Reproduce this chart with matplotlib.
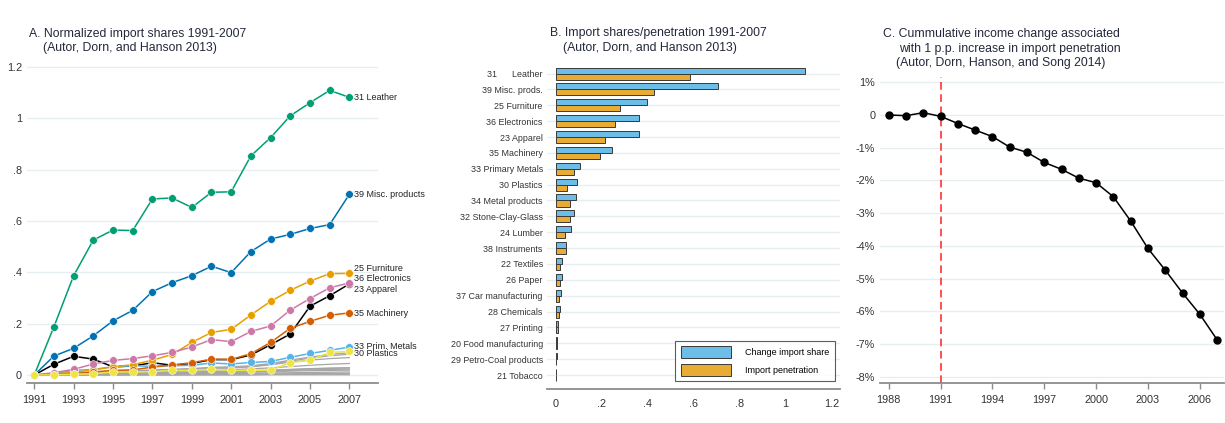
import numpy as np
import matplotlib.pyplot as plt

plt.rcParams['font.family'] = ['Liberation Sans', 'DejaVu Sans']

# ---- Panel A data: normalized import shares 1991-2007
years = list(range(1991, 2008))
leather = [0, 0.188, 0.387, 0.526, 0.565, 0.563, 0.686, 0.690, 0.653, 0.712,
           0.714, 0.854, 0.925, 1.010, 1.061, 1.109, 1.082]
misc = [0, 0.074, 0.104, 0.153, 0.211, 0.252, 0.325, 0.360, 0.387, 0.424,
        0.399, 0.481, 0.530, 0.548, 0.571, 0.586, 0.704]
furniture = [0, 0.005, 0.010, 0.020, 0.032, 0.040, 0.058, 0.080, 0.127, 0.166,
             0.178, 0.234, 0.287, 0.330, 0.366, 0.395, 0.396]
electronics = [0, 0.009, 0.022, 0.043, 0.057, 0.064, 0.075, 0.088, 0.109, 0.138,
               0.130, 0.170, 0.191, 0.253, 0.298, 0.340, 0.359]
apparel = [0, 0.042, 0.073, 0.062, 0.032, 0.035, 0.048, 0.038, 0.045, 0.060,
           0.060, 0.078, 0.118, 0.160, 0.268, 0.309, 0.355]
machinery = [0, 0.002, 0.005, 0.012, 0.018, 0.020, 0.031, 0.039, 0.048, 0.062,
             0.061, 0.083, 0.127, 0.182, 0.209, 0.233, 0.242]
prim_metals = [0, 0.006, 0.018, 0.022, 0.032, 0.036, 0.034, 0.036, 0.038, 0.047,
               0.043, 0.049, 0.053, 0.069, 0.084, 0.096, 0.109]
plastics = [0, 0.001, 0.003, 0.005, 0.012, 0.012, 0.013, 0.018, 0.018, 0.023,
            0.018, 0.018, 0.019, 0.048, 0.058, 0.088, 0.092]

# remaining industries (grey lines)
other_series = [
    [0, .003, .006, .009, .012, .015, .018, .021, .025, .030, .032, .036, .045, .058, .070, .080, .087],
    [0, .002, .005, .008, .011, .013, .016, .019, .022, .026, .028, .033, .042, .054, .066, .075, .081],
    [0, .004, .008, .011, .014, .017, .020, .022, .024, .027, .028, .032, .040, .050, .058, .064, .068],
    [0, .002, .004, .006, .008, .010, .012, .014, .017, .020, .021, .024, .028, .033, .038, .042, .045],
    [0, .001, .003, .004, .006, .007, .009, .010, .012, .014, .015, .017, .019, .022, .025, .027, .028],
    [0, .001, .002, .003, .004, .006, .007, .008, .010, .012, .013, .015, .018, .021, .024, .026, .028],
    [0, .001, .002, .003, .004, .005, .006, .007, .008, .010, .011, .013, .015, .018, .020, .022, .023],
    [0, .001, .002, .003, .003, .004, .005, .006, .007, .008, .009, .011, .013, .015, .017, .018, .019],
    [0, .001, .001, .002, .002, .003, .003, .004, .005, .005, .006, .007, .008, .009, .010, .011, .012],
    [0, 0, .001, .001, .001, .002, .002, .002, .003, .003, .003, .004, .004, .005, .006, .006, .007],
    [0, 0, 0, .001, .001, .001, .001, .001, .002, .002, .002, .002, .003, .003, .003, .004, .004],
    [0, 0, 0, 0, 0, 0, 0, 0, 0, 0, 0, 0, .001, .001, .001, .001, .001],
]

# ---- Panel B data
industries = ["31      Leather", "39 Misc. prods.", "25 Furniture", "36 Electronics",
              "23 Apparel", "35 Machinery", "33 Primary Metals", "30 Plastics",
              "34 Metal products", "32 Stone-Clay-Glass", "24 Lumber", "38 Instruments",
              "22 Textiles", "26 Paper", "37 Car manufacturing", "28 Chemicals",
              "27 Printing", "20 Food manufacturing", "29 Petro-Coal products", "21 Tobacco"]
change_share = [1.084, 0.704, 0.397, 0.361, 0.361, 0.243, 0.104, 0.093, 0.087, 0.081,
                0.068, 0.045, 0.028, 0.028, 0.023, 0.019, 0.012, 0.007, 0.004, 0.001]
penetration = [0.584, 0.429, 0.278, 0.259, 0.216, 0.194, 0.078, 0.049, 0.064, 0.064,
               0.041, 0.043, 0.020, 0.017, 0.014, 0.016, 0.012, 0.004, 0.003, 0.001]

# ---- Panel C data
c_years = list(range(1988, 2008))
income_change = [0.0, -0.02, 0.07, -0.04, -0.26, -0.46, -0.66, -0.98, -1.14, -1.45,
                 -1.66, -1.93, -2.07, -2.50, -3.24, -4.08, -4.74, -5.44, -6.09, -6.87]

text_col = '#23283a'
grid_col = '#e6eef1'
axis_col = '#8c8c8c'

fig = plt.figure(figsize=(12.25, 4.23), dpi=100)


def style_axes(ax):
    for s in ['top', 'right', 'left']:
        ax.spines[s].set_visible(False)
    ax.spines['bottom'].set_color(axis_col)
    ax.spines['bottom'].set_linewidth(1.3)
    ax.tick_params(axis='x', colors=axis_col, labelcolor='#333333', length=4, width=1)
    ax.tick_params(axis='y', length=0, labelcolor='#333333')
    ax.set_axisbelow(True)


# ================= Panel A
axA = fig.add_axes([0.022, 0.0946, 0.2865, 0.759])
style_axes(axA)
for s in other_series:
    axA.plot(years, s, color='#a6a6a6', lw=0.9, zorder=2)

series = [
    (apparel, '#000000'),
    (leather, '#009E73'),
    (misc, '#0072B2'),
    (prim_metals, '#56B4E9'),
    (furniture, '#E69F00'),
    (electronics, '#CC79A7'),
    (machinery, '#D55E00'),
    (plastics, '#F0E442'),
]
for vals, col in series:
    axA.plot(years, vals, color=col, lw=1.1, marker='o', ms=5.6,
             mec='white', mew=0.4, zorder=3)

labels_A = [("31 Leather", 1.080), ("39 Misc. products", 0.704), ("25 Furniture", 0.416),
            ("36 Electronics", 0.377), ("23 Apparel", 0.334), ("35 Machinery", 0.240),
            ("33 Prim. Metals", 0.113), ("30 Plastics", 0.082)]
for txt, yv in labels_A:
    axA.text(2007.25, yv, txt, fontsize=6.5, va='center', ha='left', color='#222222',
             clip_on=False)

axA.set_xlim(1990.63, 2008.45)
axA.set_ylim(-0.031, 1.22)
axA.set_xticks(range(1991, 2008, 2))
axA.set_yticks([0, 0.2, 0.4, 0.6, 0.8, 1.0, 1.2])
axA.set_yticklabels(['0', '.2', '.4', '.6', '.8', '1', '1.2'])
axA.tick_params(labelsize=7.8)
axA.tick_params(axis='x', pad=5)
axA.grid(axis='y', color=grid_col, lw=1)

# ================= Panel B
axB = fig.add_axes([0.4465, 0.0804, 0.2392, 0.769])
style_axes(axB)
pos = np.arange(len(industries))
h = 0.38
axB.barh(pos - h / 2, change_share, height=h, color='#6CBDE8', edgecolor='#3a3a3a',
         lw=0.7, label='Change import share', zorder=3)
axB.barh(pos + h / 2, penetration, height=h, color='#E8AC32', edgecolor='#3a3a3a',
         lw=0.7, label='Import penetration', zorder=3)
axB.set_yticks(pos)
axB.set_yticklabels(industries, fontsize=6.4)
axB.set_ylim(len(industries) - 0.12, -0.62)
axB.set_xlim(-0.038, 1.236)
axB.set_xticks([0, 0.2, 0.4, 0.6, 0.8, 1.0, 1.2])
axB.set_xticklabels(['0', '.2', '.4', '.6', '.8', '1', '1.2'])
axB.tick_params(axis='x', labelsize=7.8, length=0, pad=7)
axB.tick_params(axis='y', pad=3)
axB.grid(axis='y', color=grid_col, lw=1)
leg = axB.legend(loc='lower right', fontsize=6.5, frameon=True, fancybox=False,
                 edgecolor='#333333', handlelength=5.6, handleheight=1.7,
                 borderpad=0.6, labelspacing=0.6, handletextpad=1.5,
                 bbox_to_anchor=(0.997, 0.01))
leg.get_frame().set_linewidth(0.8)

# ================= Panel C
axC = fig.add_axes([0.7184, 0.0946, 0.2808, 0.7225])
style_axes(axC)
axC.plot(c_years, income_change, color='black', lw=1.1, marker='o', ms=5.0, zorder=3)
axC.axvline(1991, color='#ff2020', lw=1.1, ls=(0, (5, 3)), zorder=2)
axC.set_xlim(1987.5, 2007.4)
axC.set_ylim(-8.19, 1.15)
axC.set_xticks(range(1988, 2008, 3))
axC.set_yticks(range(1, -9, -1))
axC.set_yticklabels(['1%', '0'] + ['%d%%' % v for v in range(-1, -9, -1)])
axC.tick_params(labelsize=7.8)
axC.tick_params(axis='x', pad=5)
axC.grid(axis='y', color=grid_col, lw=1)

# ================= titles
tfs = 8.8
fig.text(29 / 1225, 1 - 34 / 423, "A. Normalized import shares 1991-2007",
         fontsize=tfs, color=text_col, va='center')
fig.text(43 / 1225, 1 - 48 / 423, "(Autor, Dorn, and Hanson 2013)",
         fontsize=tfs, color=text_col, va='center')
fig.text(550 / 1225, 1 - 33 / 423, "B. Import shares/penetration 1991-2007",
         fontsize=tfs, color=text_col, va='center')
fig.text(563 / 1225, 1 - 48 / 423, "(Autor, Dorn, and Hanson 2013)",
         fontsize=tfs, color=text_col, va='center')
fig.text(883 / 1225, 1 - 34 / 423, "C. Cummulative income change associated",
         fontsize=tfs, color=text_col, va='center')
fig.text(899 / 1225, 1 - 49 / 423, "with 1 p.p. increase in import penetration",
         fontsize=tfs, color=text_col, va='center')
fig.text(896 / 1225, 1 - 63 / 423, "(Autor, Dorn, Hanson, and Song 2014)",
         fontsize=tfs, color=text_col, va='center')

fig.savefig('out.png', dpi=100)
